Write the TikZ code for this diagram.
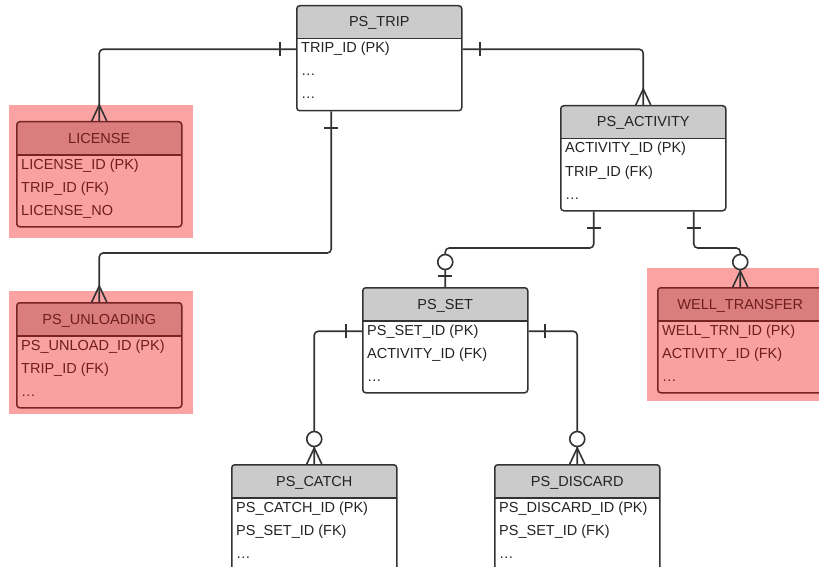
\documentclass[tikz,border=0pt]{standalone}
\usepackage{fontspec}
\setmainfont{Liberation Sans}

\definecolor{linegray}{HTML}{333333}
\definecolor{headgray}{HTML}{CBCBCB}
\definecolor{ink}{HTML}{222222}
\definecolor{pinkbg}{HTML}{FBA3A3}
\definecolor{pinkbody}{HTML}{F9A0A0}
\definecolor{pinkhead}{HTML}{D97D7D}
\definecolor{pinkline}{HTML}{762424}
\definecolor{pinkink}{HTML}{6E1E1E}

\newcommand{\tablefont}{\fontsize{14.5}{17}\selectfont}

\tikzset{
  entity/.style n args={3}{rectangle, rounded corners=3pt, line width=1.5pt,
    draw=#1, fill=#2, minimum width=165pt, minimum height=105pt,
    inner sep=0pt, anchor=north west,
    path picture={
      \fill[#3, sharp corners] (path picture bounding box.north west)
        rectangle ([yshift=-33pt]path picture bounding box.north east);
      \draw[#1, line width=1.5pt, sharp corners]
        ([yshift=-33pt]path picture bounding box.north west)
        -- ([yshift=-33pt]path picture bounding box.north east);
    }},
  plain/.style={entity={linegray}{white}{headgray}},
  flagged/.style={entity={pinkline}{pinkbody}{pinkhead}},
  headtext/.style={anchor=base, inner sep=0pt, font=\tablefont},
  rowtext/.style={anchor=base west, inner sep=0pt, font=\tablefont},
  conn/.style={draw=linegray, line width=1.6pt, rounded corners=4pt},
  one/.pic={\draw[conn, line width=2pt, sharp corners] (-7,0) -- (7,0);},
  many/.pic={\draw[conn, sharp corners] (-7.5,0) -- (0,-16) -- (7.5,0);},
  zero/.pic={\draw[conn, fill=white] (0,-25) circle (7.5pt);}
}

\begin{document}
\begin{tikzpicture}[x=1pt, y=-1pt]
  \useasboundingbox (0,0) rectangle (819,567);

  % highlighted tables
  \fill[pinkbg] (9,105) rectangle (193,238);
  \fill[pinkbg] (9,291) rectangle (193,414);
  \fill[pinkbg] (647,268) rectangle (819,401);

  % tables
  \foreach \ent/\ex/\ey/\kind/\ink/\head/\ra/\rb/\rc in {
    trip/296/5/plain/ink/PS\_TRIP/TRIP\_ID (PK)/\ldots/\ldots,
    license/16/121/flagged/pinkink/LICENSE/LICENSE\_ID (PK)/TRIP\_ID (FK)/LICENSE\_NO,
    unload/16/302/flagged/pinkink/PS\_UNLOADING/PS\_UNLOAD\_ID (PK)/TRIP\_ID (FK)/\ldots,
    activity/560/105/plain/ink/PS\_ACTIVITY/ACTIVITY\_ID (PK)/TRIP\_ID (FK)/\ldots,
    set/362/287/plain/ink/PS\_SET/PS\_SET\_ID (PK)/ACTIVITY\_ID (FK)/\ldots,
    well/657/287/flagged/pinkink/WELL\_TRANSFER/WELL\_TRN\_ID (PK)/ACTIVITY\_ID (FK)/\ldots,
    catch/231/464/plain/ink/PS\_CATCH/PS\_CATCH\_ID (PK)/PS\_SET\_ID (FK)/\ldots,
    discard/494/464/plain/ink/PS\_DISCARD/PS\_DISCARD\_ID (PK)/PS\_SET\_ID (FK)/\ldots}{
    \node[\kind] (\ent) at (\ex,\ey) {};
    \node[headtext, text=\ink] (\ent-h) at ([yshift=-22pt]\ent.north) {\head};
    \node[rowtext, text=\ink] (\ent-1) at ([xshift=5pt, yshift=-48pt]\ent.north west) {\ra};
    \node[rowtext, text=\ink] (\ent-2) at ([xshift=5pt, yshift=-71pt]\ent.north west) {\rb};
    \node[rowtext, text=\ink] (\ent-3) at ([xshift=5pt, yshift=-94pt]\ent.north west) {\rc};
  }

  % links
  \draw[conn] (trip-1.west -| trip.west) -- ++(-16,0) coordinate (m1) -| (license.north);
  \draw[conn] ([xshift=-48pt]trip.south) -- ++(0,17) coordinate (m2)
    |- ([yshift=49pt]unload.north) -- (unload.north);
  \draw[conn] (trip-1.west -| trip.east) -- ++(17,0) coordinate (m3) -| (activity.north);
  \draw[conn] ([xshift=-49.5pt]activity.south) -- ++(0,16.5) coordinate (m4)
    |- ([yshift=39pt]set.north) -- (set.north);
  \draw[conn] ([xshift=50.5pt]activity.south) -- ++(0,16.5) coordinate (m5)
    |- ([yshift=39pt]well.north) -- (well.north);
  \draw[conn] (set-1.west -| set.west) -- ++(-16,0) coordinate (m6) -| (catch.north);
  \draw[conn] (set-1.west -| set.east) -- ++(16,0) coordinate (m7) -| (discard.north);

  % cardinality marks
  \foreach \m in {m1,m3,m6,m7} \pic[rotate=90] at (\m) {one};
  \foreach \m in {m2,m4,m5} \pic at (\m) {one};
  \foreach \e in {license,unload,activity,well,catch,discard} \pic at (\e.north) {many};
  \foreach \e in {set,well,catch,discard} \pic at (\e.north) {zero};
  \pic[yshift=11pt] at (set.north) {one};
\end{tikzpicture}
\end{document}
